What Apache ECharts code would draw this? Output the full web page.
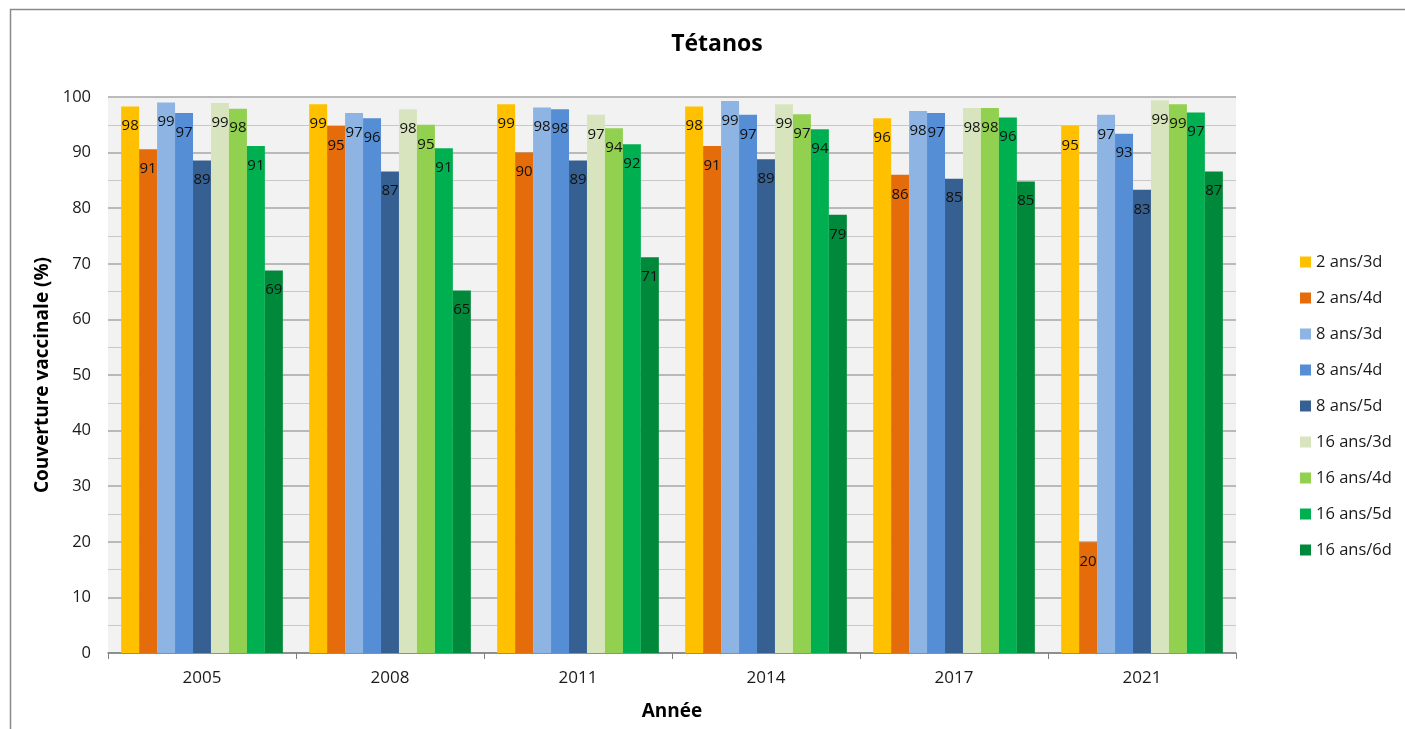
<!DOCTYPE html>
<html><head><meta charset="utf-8">
<script src="https://cdn.jsdelivr.net/npm/echarts@6/dist/echarts.min.js"></script>
<style>html,body{margin:0;padding:0;background:#fff}#c{width:1405px;height:729px}</style>
</head><body><div id="c"></div>
<script>
const categories = ['2005','2008','2011','2014','2017','2021'];
const seriesNames = ['2 ans/3d','2 ans/4d','8 ans/3d','8 ans/4d','8 ans/5d','16 ans/3d','16 ans/4d','16 ans/5d','16 ans/6d'];
const s2a3d  = [98.3, 98.7, 98.7, 98.3, 96.2, 94.8];
const s2a4d  = [90.6, 94.8, 90.0, 91.2, 86.0, 19.9];
const s8a3d  = [99.0, 97.1, 98.1, 99.3, 97.5, 96.8];
const s8a4d  = [97.1, 96.2, 97.8, 96.8, 97.1, 93.4];
const s8a5d  = [88.6, 86.6, 88.6, 88.8, 85.3, 83.3];
const s16a3d = [98.9, 97.8, 96.8, 98.7, 98.0, 99.4];
const s16a4d = [97.9, 95.0, 94.4, 96.9, 98.0, 98.7];
const s16a5d = [91.2, 90.8, 91.5, 94.2, 96.3, 97.2];
const s16a6d = [68.8, 65.2, 71.2, 78.8, 84.8, 86.6];
const allValues = [s2a3d, s2a4d, s8a3d, s8a4d, s8a5d, s16a3d, s16a4d, s16a5d, s16a6d];
const colors = ['#FFC000','#E46C0A','#8EB4E3','#558ED5','#366092','#D7E4BD','#92D050','#00B050','#00893A'];
const FONT = '"Open Sans", "Noto Sans", sans-serif';

const chart = echarts.init(document.getElementById('c'));
chart.setOption({
  animation: false,
  color: colors,
  textStyle: { fontFamily: FONT },
  title: { text: 'Tétanos', top: 28, left: 712, textAlign: 'center',
    textStyle: { fontSize: 23, fontWeight: 'bold', color: '#000', fontFamily: FONT } },
  graphic: [{ type: 'rect', left: 8, top: 7, shape: { width: 1420, height: 800 },
    style: { fill: 'none', stroke: '#8a8a8a', lineWidth: 1.5 }, silent: true, z: -10 }],
  legend: {
    orient: 'vertical', left: 1295, top: 247, itemWidth: 11, itemHeight: 11, itemGap: 16,
    icon: 'rect', data: seriesNames,
    textStyle: { fontSize: 16.5, lineHeight: 20, color: '#1a1a1a', fontFamily: FONT, padding: [0,0,0,0] }
  },
  grid: { left: 108, right: 169, top: 97, bottom: 76, show: true, backgroundColor: '#F2F2F2', borderWidth: 0 },
  xAxis: {
    type: 'category', data: categories, name: 'Année', nameLocation: 'middle', nameGap: 49,
    nameTextStyle: { fontSize: 19, fontWeight: 'bold', color: '#000', fontFamily: FONT },
    axisLine: { lineStyle: { color: '#808080', width: 1.5 } },
    axisTick: { show: true, length: 6, lineStyle: { color: '#808080' } },
    axisLabel: { fontSize: 17, color: '#1a1a1a', margin: 17, fontFamily: FONT }
  },
  yAxis: {
    type: 'value', min: 0, max: 100, interval: 10,
    name: 'Couverture vaccinale (%)', nameLocation: 'middle', nameGap: 54,
    nameTextStyle: { fontSize: 19, fontWeight: 'bold', color: '#000', fontFamily: FONT },
    axisLine: { show: false }, axisTick: { show: false },
    axisLabel: { fontSize: 16.5, color: '#1a1a1a', margin: 17, fontFamily: FONT },
    splitLine: { show: true, lineStyle: { color: '#A6A6A6', width: 1.6 } },
    minorTick: { show: false, splitNumber: 2 },
    minorSplitLine: { show: true, lineStyle: { color: '#C8C8C8', width: 1.2 } }
  },
  series: seriesNames.map((n, i) => ({
    name: n, type: 'bar', data: allValues[i],
    barGap: '0%', barCategoryGap: '14%',
    itemStyle: { color: colors[i] },
    label: { show: true, position: 'insideTop', distance: 12, fontSize: 15, color: '#111',
      fontFamily: FONT, formatter: p => Math.round(p.value) }
  }))
});
</script></body></html>
